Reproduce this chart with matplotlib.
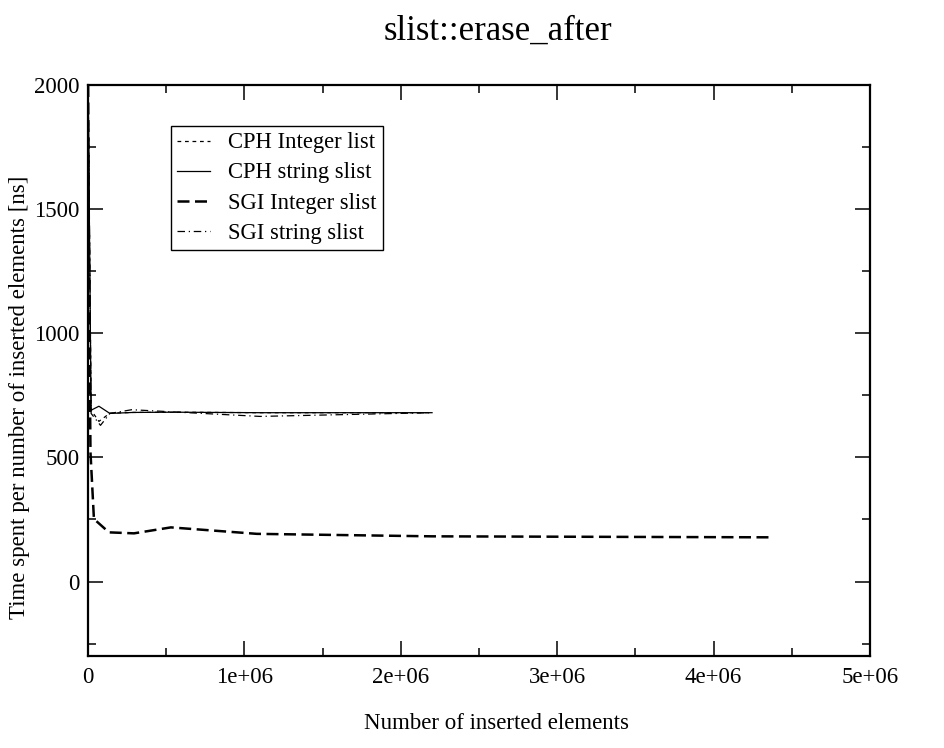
import matplotlib
matplotlib.use("Agg")
import matplotlib.pyplot as plt
from matplotlib.ticker import MultipleLocator, FuncFormatter

# Benchmark samples: number of inserted elements vs. time per element [ns]
cph_int_x = [1e3, 2.0e4, 7.0e4, 1.4e5, 2.9e5, 5.5e5, 1.1e6, 2.2e6]
cph_int_y = [2000, 690, 645, 678, 681, 682, 680, 680]

cph_str_x = [1e3, 2.0e4, 7.0e4, 1.4e5, 2.9e5, 5.5e5, 1.1e6, 2.2e6]
cph_str_y = [2000, 690, 706, 677, 681, 682, 680, 680]

sgi_int_x = [1e3, 8.0e3, 1.6e4, 3.8e4, 1.34e5, 2.94e5, 5.3e5, 1.08e6, 2.2e6, 4.37e6]
sgi_int_y = [2000, 1100, 520, 252, 198, 194, 218, 192, 182, 178]

sgi_str_x = [1e3, 2.0e4, 8.0e4, 1.4e5, 2.8e5, 5.5e5, 1.1e6, 2.2e6]
sgi_str_y = [2000, 677, 629, 677, 692, 683, 665, 680]

series_labels = ["CPH Integer list", "CPH string slist", "SGI Integer slist", "SGI string slist"]

plt.rcParams["font.family"] = ["Liberation Serif", "DejaVu Serif"]

fig = plt.figure(figsize=(9.45, 7.48), dpi=100)
ax = fig.add_axes([0.0931, 0.123, 0.8275, 0.7634])

ax.plot(cph_int_x, cph_int_y, color="black", lw=0.9, linestyle=(0, (3, 3)), label=series_labels[0])
ax.plot(cph_str_x, cph_str_y, color="black", lw=0.9, linestyle="-", label=series_labels[1])
ax.plot(sgi_int_x, sgi_int_y, color="black", lw=1.8, linestyle=(0, (4.8, 2.2)), label=series_labels[2])
ax.plot(sgi_str_x, sgi_str_y, color="black", lw=0.9, linestyle=(0, (6, 3, 1, 3)), label=series_labels[3])

ax.set_xlim(0, 5e6)
ax.set_ylim(-300, 2000)
ax.xaxis.set_major_locator(MultipleLocator(1e6))
ax.xaxis.set_minor_locator(MultipleLocator(5e5))
ax.yaxis.set_major_locator(MultipleLocator(500))
ax.yaxis.set_minor_locator(MultipleLocator(250))


def sci_fmt(v, pos):
    if v == 0:
        return "0"
    mant, exp = f"{v:.0e}".split("e")
    return f"{mant}e+{int(exp):02d}"


ax.xaxis.set_major_formatter(FuncFormatter(sci_fmt))

ax.tick_params(which="both", direction="in", top=True, right=True, labelsize=16.5, width=1.1)
ax.tick_params(axis="x", pad=8)
ax.tick_params(axis="y", pad=6)
ax.tick_params(which="major", length=11)
ax.tick_params(which="minor", length=6)
for sp in ax.spines.values():
    sp.set_linewidth(1.6)

ax.set_xlabel("Number of inserted elements", fontsize=16.5)
ax.set_ylabel("Time spent per number of inserted elements [ns]", fontsize=16.5)
ax.xaxis.set_label_coords(0.523, -0.100)
ax.yaxis.set_label_coords(-0.087, 0.4536)
ax.yaxis.label.set_verticalalignment("center")
fig.text(0.527, 0.958, "slist::erase_after", ha="center", va="center", fontsize=25)

leg = ax.legend(loc="upper left", bbox_to_anchor=(0.106, 0.928), fontsize=16.3,
                frameon=True, fancybox=False, edgecolor="black", framealpha=1,
                handlelength=1.45, handletextpad=0.8, borderpad=0.28, labelspacing=0.4,
                borderaxespad=0)
leg.get_frame().set_linewidth(1.0)

fig.savefig("out.png", dpi=100)
